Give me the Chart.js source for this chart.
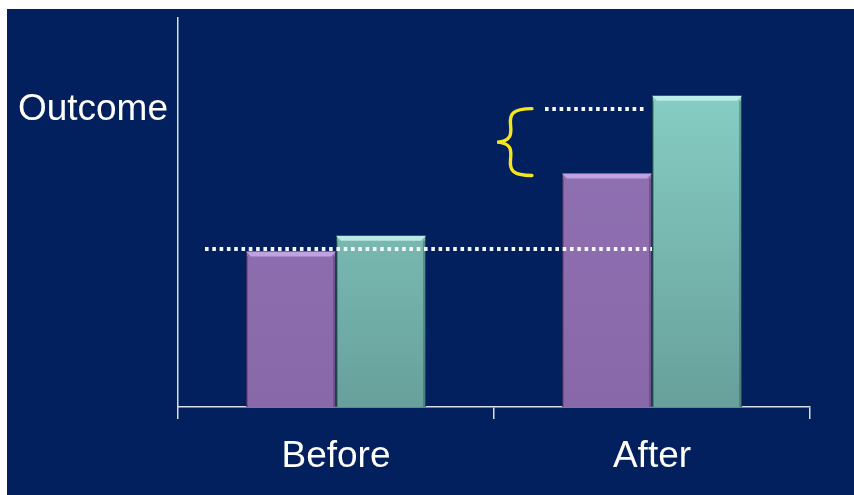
<!DOCTYPE html>
<html>
<head>
<meta charset="utf-8">
<script src="https://cdn.jsdelivr.net/npm/chart.js@4/dist/chart.umd.min.js"></script>
<style>
  html, body { margin: 0; padding: 0; background: #ffffff; }
  #slide {
    position: absolute; left: 7px; top: 9px;
    width: 847px; height: 486px;
    background: #021f5e;
  }
  #slide canvas { display: block; }
</style>
</head>
<body>
<div id="slide"><canvas id="chart" width="847" height="486"></canvas></div>
<script>
// Categories and series
const categories = ['Before', 'After'];
const controlValues = [40, 60];
const treatedValues = [44, 80];

// Y axis: single labelled tick
const yTickValues = [76.5];
const yTickLabels = ['Outcome'];

// Reference levels drawn as dotted lines: [level, fromIndex, toIndex]
const baselineLine = [40.5, -0.415, 1.0];
const projectedLine = [76.5, 0.66, 0.975];

// Brace marking the gap: [lowValue, highValue, tipIndex, armIndex]
const gapBrace = [59.5, 76.7, 0.51, 0.62];

const FONT = '"Liberation Sans", Arial, sans-serif';
const AXIS_COLOR = '#d9dee8';

function barGradient(ctx, area, top, bottom) {
  const g = ctx.createLinearGradient(0, area.top, 0, area.bottom);
  g.addColorStop(0, top);
  g.addColorStop(1, bottom);
  return g;
}

// Bevelled top edge and soft side shading on each bar
const bevelPlugin = {
  id: 'bevel',
  afterDatasetsDraw(chart) {
    const ctx = chart.ctx;
    const styles = [
      { hi: 'rgba(200,172,232,0.85)', side: 'rgba(60,40,90,0.35)' },
      { hi: 'rgba(196,242,236,0.85)', side: 'rgba(30,70,70,0.35)' }
    ];
    chart.data.datasets.forEach((ds, di) => {
      const meta = chart.getDatasetMeta(di);
      meta.data.forEach(bar => {
        const left = bar.x - bar.width / 2;
        const right = bar.x + bar.width / 2;
        const top = bar.y;
        const bottom = bar.base;
        const b = 5;
        ctx.save();
        ctx.fillStyle = styles[di].hi;
        ctx.beginPath();
        ctx.moveTo(left, top);
        ctx.lineTo(right, top);
        ctx.lineTo(right - b, top + b);
        ctx.lineTo(left + b, top + b);
        ctx.closePath();
        ctx.fill();
        ctx.fillStyle = styles[di].side;
        ctx.fillRect(right - 3, top + b, 3, bottom - top - b);
        ctx.fillRect(left, top + b, 2, bottom - top - b);
        ctx.restore();
      });
    });
  }
};

// Dotted reference lines and the yellow brace
const annotationPlugin = {
  id: 'annotations',
  afterDatasetsDraw(chart) {
    const ctx = chart.ctx;
    const xs = chart.scales.x;
    const ys = chart.scales.y;
    ctx.save();
    ctx.strokeStyle = '#f4f7fb';
    ctx.lineWidth = 4;
    ctx.setLineDash([3.6, 3.7]);
    [baselineLine, projectedLine].forEach(([level, from, to]) => {
      const y = Math.round(ys.getPixelForValue(level));
      ctx.beginPath();
      ctx.moveTo(Math.round(xs.getPixelForValue(from)), y);
      ctx.lineTo(xs.getPixelForValue(to), y);
      ctx.stroke();
    });
    ctx.setLineDash([]);

    const [lo, hi, tipIdx, armIdx] = gapBrace;
    const yTop = ys.getPixelForValue(hi);
    const yBot = ys.getPixelForValue(lo);
    const yMid = (yTop + yBot) / 2;
    const xTip = xs.getPixelForValue(tipIdx);
    const xArm = xs.getPixelForValue(armIdx);
    const xMid = (xTip + xArm) / 2 + 1;
    ctx.strokeStyle = '#f4e61e';
    ctx.lineWidth = 3.4;
    ctx.lineCap = 'round';
    ctx.beginPath();
    ctx.moveTo(xArm, yTop);
    ctx.bezierCurveTo(xMid - 4, yTop, xMid - 6, yTop + 6, xMid - 5, yTop + 16);
    ctx.bezierCurveTo(xMid - 4, yMid - 8, xMid - 4, yMid - 1, xTip, yMid);
    ctx.bezierCurveTo(xMid - 4, yMid + 1, xMid - 4, yMid + 8, xMid - 5, yBot - 16);
    ctx.bezierCurveTo(xMid - 6, yBot - 6, xMid - 4, yBot, xArm, yBot);
    ctx.stroke();
    ctx.restore();
  }
};

new Chart(document.getElementById('chart'), {
  type: 'bar',
  data: {
    labels: categories,
    datasets: [
      {
        data: controlValues,
        backgroundColor: c => {
          const a = c.chart.chartArea;
          return a ? barGradient(c.chart.ctx, a, '#9274b6', '#8968a9') : '#8b6cab';
        },
        borderColor: 'rgba(70,50,100,0.8)',
        borderWidth: { left: 1, right: 1, top: 0, bottom: 0 },
        borderSkipped: false
      },
      {
        data: treatedValues,
        backgroundColor: c => {
          const a = c.chart.chartArea;
          return a ? barGradient(c.chart.ctx, a, '#8dd8ce', '#68a09b') : '#7bbab2';
        },
        borderColor: 'rgba(40,80,80,0.8)',
        borderWidth: { left: 1, right: 1, top: 0, bottom: 0 },
        borderSkipped: false
      }
    ]
  },
  options: {
    responsive: false,
    animation: false,
    devicePixelRatio: 1,
    categoryPercentage: 0.57,
    barPercentage: 1.0,
    layout: { padding: { top: 9, right: 44, left: 0, bottom: 0 } },
    plugins: { legend: { display: false }, tooltip: { enabled: false } },
    scales: {
      x: {
        offset: true,
        grid: {
          offset: true,
          drawOnChartArea: false,
          drawTicks: true,
          tickLength: 12,
          color: AXIS_COLOR,
          lineWidth: 1.5
        },
        border: { display: true, color: AXIS_COLOR, width: 1.5 },
        ticks: {
          color: '#ffffff',
          font: { family: FONT, size: 37 },
          padding: 16
        },
        afterFit: s => { s.height = 88; s.paddingLeft = 0; s.paddingRight = 0; }
      },
      y: {
        min: 0,
        max: 100,
        grid: { display: false, drawTicks: false },
        border: { display: true, color: AXIS_COLOR, width: 1.5 },
        afterBuildTicks: s => { s.ticks = yTickValues.map(v => ({ value: v })); },
        ticks: {
          color: '#ffffff',
          font: { family: FONT, size: 37 },
          padding: 10,
          callback: (v, i) => yTickLabels[i]
        },
        afterFit: s => { s.width = 171; s.paddingTop = 0; s.paddingBottom = 0; }
      }
    }
  },
  plugins: [bevelPlugin, annotationPlugin]
});
</script>
</body>
</html>
